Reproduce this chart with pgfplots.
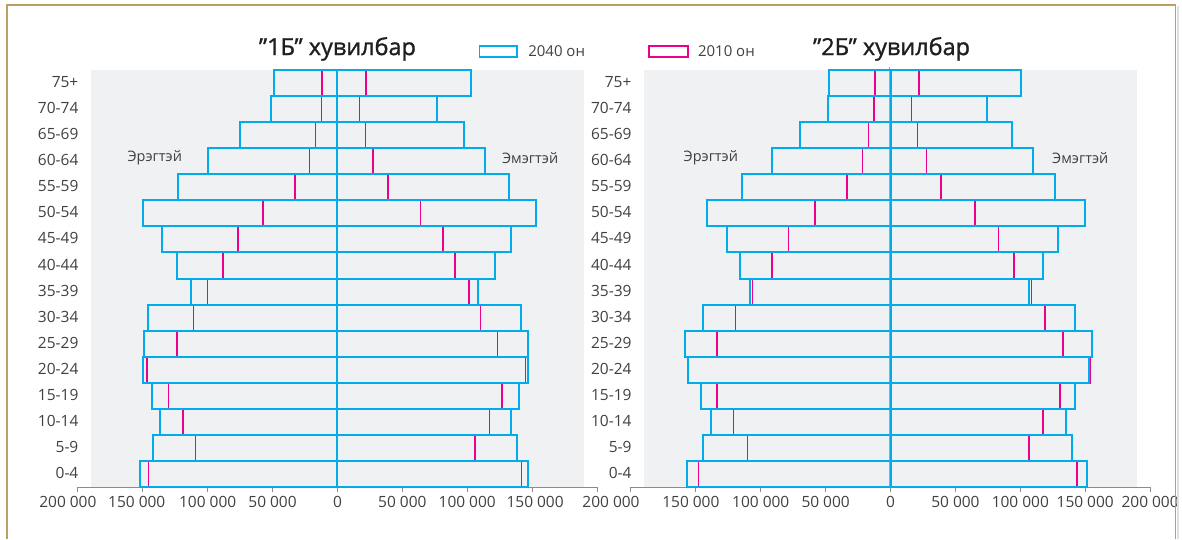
\documentclass[border=0pt]{standalone}
\usepackage{fontspec}
\setmainfont{Open Sans}
\newfontfamily\titlefont{Open Sans}[FakeBold=1.2]
\usepackage{pgfplots}
\usepackage{pgfplotstable}
\pgfplotsset{compat=1.18}

\definecolor{barblue}{RGB}{0,172,236}
\definecolor{barpink}{RGB}{236,0,140}
\definecolor{plotbg}{RGB}{240,241,243}
\definecolor{axisgrey}{RGB}{140,140,140}
\definecolor{txt}{RGB}{64,64,64}
\definecolor{framecol}{RGB}{186,160,100}

% age groups, bottom (0) to top (15)
% 1B variant
\pgfplotstableread{
y  m40    f40    m10    f10
0  152000 147000 145600 141800
1  141800 138000 109400 105900
2  137000 134000 119000 117000
3  143000 140000 130000 126800
4  150000 147000 146800 144700
5  149000 146500 123800 123500
6  145600 141800 111000 110300
7  112600 108200 100000 101500
8  123800 121200 88000  90600
9  135000 133800 76800  81200
10 150000 153200 57400  64100
11 123000 131800 32600  38800
12 100000 113800 21500  27400
13 75300  97400  17000  21500
14 51200  77000  12400  16800
15 49000  102600 11800  22000
}\dataA
% 2B variant
\pgfplotstableread{
y  m40    f40    m10    f10
0  157000 151600 147800 143700
1  144200 139800 110300 106800
2  138300 134800 121200 117400
3  145700 142200 133600 130700
4  156000 153000 155800 153700
5  158500 155500 133800 133000
6  144800 142200 119500 118900
7  108300 106800 106500 108600
8  116200 117100 91400  95000
9  126000 128900 78800  83200
10 141600 150100 58400  64900
11 114200 126500 33600  38900
12 91200  109400 21800  27700
13 69900  93500  17100  20600
14 48400  74000  12700  16200
15 47500  100300 12100  21800
}\dataB

\pgfplotsset{
  pyramid/.style={
    scale only axis, width=520pt, height=418pt,
    xmin=-200000, xmax=200000, ymin=-0.5, ymax=15.5,
    xbar, bar width=1, bar shift=0pt,
    axis x line*=bottom, axis y line*=left,
    y axis line style={draw=none},
    ytick={0,...,15},
    yticklabels={0-4,5-9,10-14,15-19,20-24,25-29,30-34,35-39,40-44,45-49,50-54,55-59,60-64,65-69,70-74,75+},
    ytick style={draw=none},
    yticklabel style={xshift=9pt, yshift=1pt},
    xtick={-200000,-150000,-100000,-50000,0,50000,100000,150000,200000},
    x axis line style={axisgrey, line width=1pt},
    xtick style={axisgrey, line width=1pt},
    tick align=outside, major tick length=5pt,
    tick label style={font=\fontsize{15.5}{18}\selectfont, text=txt},
    xticklabel style={yshift=-1pt},
    scaled x ticks=false,
    clip=false,
  },
  b40/.style={draw=barblue, line width=2pt, fill=none},
  b10/.style={draw=barpink, line width=1.5pt, fill=none},
}

\begin{document}
\begin{tikzpicture}

% left panel
\begin{axis}[pyramid, at={(78pt,52pt)}, anchor=south west,
  xticklabels={200 000\kern20pt,150 000\kern12pt,100 000,50 000,0,50 000,100 000,\kern6pt 150 000,{}}]
\fill[plotbg] (axis cs:-190000,-0.5) rectangle (axis cs:190000,15.5);
\addplot[b10] table[x expr=-\thisrow{m10}, y=y] {\dataA};
\addplot[b10] table[x=f10, y=y] {\dataA};
\addplot[b40] table[x expr=-\thisrow{m40}, y=y] {\dataA};
\addplot[b40] table[x=f40, y=y] {\dataA};
\end{axis}

% right panel
\begin{axis}[pyramid, at={(632pt,52pt)}, anchor=south west,
  xticklabels={200 000\kern40pt,150 000\kern10pt,100 000,50 000,0,50 000,100 000,150 000,200 000}]
\fill[plotbg] (axis cs:-190000,-0.5) rectangle (axis cs:190000,15.5);
\draw[gray!70, line width=1.2pt] (axis cs:-800,-0.5) -- (axis cs:-800,15.6);
\addplot[b10] table[x expr=-\thisrow{m10}, y=y] {\dataB};
\addplot[b10] table[x=f10, y=y] {\dataB};
\addplot[b40] table[x expr=-\thisrow{m40}, y=y] {\dataB};
\addplot[b40] table[x=f40, y=y] {\dataB};
\end{axis}

\begin{scope}[x=1pt,y=1pt]
\useasboundingbox (0,0) rectangle (1182,540);
% titles
\node[font=\titlefont\fontsize{23.5}{26}\selectfont, text=black!88] at (338,491) {”1Б” хувилбар};
\node[font=\titlefont\fontsize{23.5}{26}\selectfont, text=black!88] at (893,491) {”2Б” хувилбар};

% legend
\draw[barblue, fill=white, line width=1.4pt] (480,494) rectangle (518,483);
\node[anchor=west, inner sep=0, font=\fontsize{15}{18}\selectfont, text=txt] at (529,488.5) {2040 он};
\draw[barpink, fill=white, line width=1.4pt] (650,494) rectangle (689,483);
\node[anchor=west, inner sep=0, font=\fontsize{15}{18}\selectfont, text=txt] at (699,488.5) {2010 он};

% side labels
\node[font=\fontsize{14.5}{18}\selectfont, text=txt] at (155,382) {Эрэгтэй};
\node[font=\fontsize{14.5}{18}\selectfont, text=txt] at (531,382) {Эмэгтэй};
\node[font=\fontsize{14.5}{18}\selectfont, text=txt] at (712,382) {Эрэгтэй};
\node[font=\fontsize{14.5}{18}\selectfont, text=txt] at (1082,382) {Эмэгтэй};

% frame
\draw[black!12, line width=2pt] (1180,0) -- (1180,534);
\draw[framecol, line width=1.5pt] (7,0) -- (7,535) -- (1177.5,535) -- (1177.5,0);
\end{scope}
\end{tikzpicture}
\end{document}
